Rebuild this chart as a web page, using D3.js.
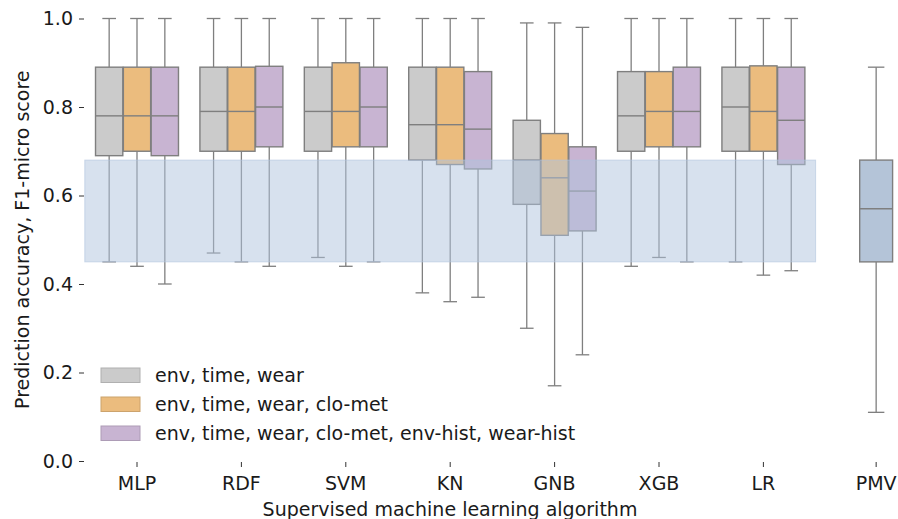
<!DOCTYPE html>
<html>
<head>
<meta charset="utf-8">
<script src="https://cdn.jsdelivr.net/npm/d3@7"></script>
<style>
body { margin: 0; background: #fff; }
text { font-family: "DejaVu Sans", sans-serif; fill: #1a1a1a; }
</style>
</head>
<body>
<div id="chart"></div>
<script>
// algorithms and feature sets
var algorithms = ["MLP", "RDF", "SVM", "KN", "GNB", "XGB", "LR"];
var featureSets = ["env, time, wear", "env, time, wear, clo-met", "env, time, wear, clo-met, env-hist, wear-hist"];
var hueColors = ["#cbcbcb", "#ebbc7e", "#c8b4d2"];

// five-number summaries per feature set [low whisker, q1, median, q3, high whisker]
var statsEnv = [
  [0.45, 0.69, 0.78, 0.89, 1.0],
  [0.47, 0.70, 0.79, 0.89, 1.0],
  [0.46, 0.70, 0.79, 0.89, 1.0],
  [0.38, 0.68, 0.76, 0.89, 1.0],
  [0.30, 0.58, 0.68, 0.77, 0.99],
  [0.44, 0.70, 0.78, 0.88, 1.0],
  [0.45, 0.70, 0.80, 0.89, 1.0]
];
var statsClo = [
  [0.44, 0.70, 0.78, 0.89, 1.0],
  [0.45, 0.70, 0.79, 0.89, 1.0],
  [0.44, 0.71, 0.79, 0.90, 1.0],
  [0.36, 0.67, 0.76, 0.89, 1.0],
  [0.17, 0.51, 0.64, 0.74, 0.99],
  [0.46, 0.71, 0.79, 0.88, 1.0],
  [0.42, 0.70, 0.79, 0.893, 1.0]
];
var statsHist = [
  [0.40, 0.69, 0.78, 0.89, 1.0],
  [0.44, 0.71, 0.80, 0.892, 1.0],
  [0.45, 0.71, 0.80, 0.89, 1.0],
  [0.37, 0.66, 0.75, 0.88, 1.0],
  [0.24, 0.52, 0.61, 0.71, 0.98],
  [0.45, 0.71, 0.79, 0.89, 1.0],
  [0.43, 0.67, 0.77, 0.89, 1.0]
];
var pmvStats = [0.11, 0.45, 0.57, 0.68, 0.89];
// PMV range shaded over the ML algorithms
var pmvBand = [0.45, 0.68];
var yTicks = [0.0, 0.2, 0.4, 0.6, 0.8, 1.0];

var width = 898, height = 519;
var fontSize = "19px";
var allStats = [statsEnv, statsClo, statsHist];

var svg = d3.select("#chart").append("svg")
  .attr("width", width)
  .attr("height", height);

var step = 104.4;
var x = d3.scaleLinear().domain([0, 1]).range([137, 137 + step]);
var y = d3.scaleLinear().domain([0, 1]).range([461, 18.5]);
var pmvIndex = 7.08;

var edge = "#7f7f7f";
var slot = step * 0.8 / 3;
var boxW = slot * 0.98;

function drawBox(g, cx, w, s, fill) {
  // whiskers
  g.append("line").attr("x1", cx).attr("x2", cx).attr("y1", y(s[0])).attr("y2", y(s[1]))
    .attr("stroke", edge).attr("stroke-width", 1.3);
  g.append("line").attr("x1", cx).attr("x2", cx).attr("y1", y(s[3])).attr("y2", y(s[4]))
    .attr("stroke", edge).attr("stroke-width", 1.3);
  // caps
  [s[0], s[4]].forEach(function(v) {
    g.append("line").attr("x1", cx - w / 4).attr("x2", cx + w / 4).attr("y1", y(v)).attr("y2", y(v))
      .attr("stroke", edge).attr("stroke-width", 1.3);
  });
  g.append("rect")
    .attr("x", cx - w / 2).attr("width", w)
    .attr("y", y(s[3])).attr("height", y(s[1]) - y(s[3]))
    .attr("fill", fill).attr("stroke", edge).attr("stroke-width", 1.4);
  g.append("line").attr("x1", cx - w / 2).attr("x2", cx + w / 2).attr("y1", y(s[2])).attr("y2", y(s[2]))
    .attr("stroke", edge).attr("stroke-width", 1.4);
}

var boxes = svg.append("g");
algorithms.forEach(function(a, i) {
  allStats.forEach(function(st, h) {
    var cx = x(i) + (h - 1) * slot;
    drawBox(boxes, cx, boxW, st[i], hueColors[h]);
  });
});
drawBox(boxes, x(pmvIndex), step * 0.315, pmvStats, "#b4c4d8");

// shaded band on top
svg.append("rect")
  .attr("x", x(-0.5)).attr("width", x(6.5) - x(-0.5))
  .attr("y", y(pmvBand[1])).attr("height", y(pmvBand[0]) - y(pmvBand[1]))
  .attr("fill", "rgb(176,196,222)").attr("fill-opacity", 0.5)
  .attr("stroke", "rgb(176,196,222)").attr("stroke-opacity", 0.6).attr("stroke-width", 1);

// y axis (ticks only)
var yAxis = svg.append("g").attr("transform", "translate(84,0)")
  .call(d3.axisLeft(y).tickValues(yTicks).tickFormat(d3.format(".1f")).tickSize(5).tickPadding(6));
yAxis.select(".domain").remove();
yAxis.selectAll("text").style("font-size", fontSize).attr("fill", "#1a1a1a");
yAxis.selectAll("line").attr("stroke", "#333");

// x axis (ticks only)
var xCats = algorithms.concat(["PMV"]);
var xAxis = svg.append("g").attr("transform", "translate(0,461)");
xCats.forEach(function(c, i) {
  var px = i < algorithms.length ? x(i) : x(pmvIndex);
  xAxis.append("line").attr("x1", px).attr("x2", px).attr("y1", 1).attr("y2", 6).attr("stroke", "#333");
  xAxis.append("text").attr("x", px).attr("y", 29).attr("text-anchor", "middle")
    .style("font-size", fontSize).text(c);
});

// axis titles
svg.append("text").attr("x", 450).attr("y", 516).attr("text-anchor", "middle")
  .style("font-size", fontSize).text("Supervised machine learning algorithm");
svg.append("text").attr("transform", "translate(29," + y(0.5) + ") rotate(-90)")
  .attr("text-anchor", "middle").style("font-size", fontSize).text("Prediction accuracy, F1-micro score");

// legend
var legend = svg.append("g").attr("transform", "translate(101,368)");
featureSets.forEach(function(f, i) {
  var row = legend.append("g").attr("transform", "translate(0," + i * 29 + ")");
  row.append("rect").attr("width", 39).attr("height", 14.5)
    .attr("fill", hueColors[i]).attr("stroke", d3.color(hueColors[i]).darker(0.4)).attr("stroke-width", 1);
  row.append("text").attr("x", 54).attr("y", 14).style("font-size", fontSize).text(f);
});
</script>
</body>
</html>
